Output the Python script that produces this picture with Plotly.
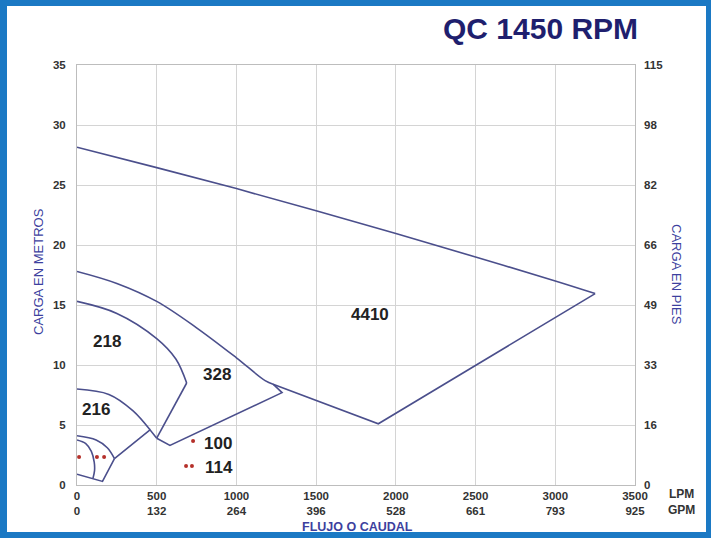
import plotly.graph_objects as go

# ---------------- data ----------------
lpm_ticks = [0, 500, 1000, 1500, 2000, 2500, 3000, 3500]
gpm_labels = ["0", "132", "264", "396", "528", "661", "793", "925"]
m_ticks = [0, 5, 10, 15, 20, 25, 30, 35]
ft_labels = ["0", "16", "33", "49", "66", "82", "98", "115"]

# model 4410
top4410_x = [0, 500, 1000, 1500, 2000, 2500, 3000, 3250]
top4410_y = [28.15, 26.45, 24.7, 22.85, 20.95, 19.0, 17.0, 15.95]
right4410_x = [3250, 1890, 1230]
right4410_y = [15.95, 5.1, 8.4]
# shared boundary 4410 / 328
mid4410_x = [0, 250, 500, 750, 1000, 1180, 1230]
mid4410_y = [17.8, 16.8, 15.3, 13.1, 10.6, 8.7, 8.4]
# model 328
tail328_x = [1230, 1286, 583, 500]
tail328_y = [8.4, 7.7, 3.3, 3.9]
# model 218
top218_x = [0, 250, 500, 620, 688]
top218_y = [15.3, 14.3, 12.2, 10.5, 8.5]
side218_x = [688, 500]
side218_y = [8.5, 3.9]
# model 216
top216_x = [0, 200, 350, 458]
top216_y = [8.0, 7.55, 6.2, 4.6]
low216_x = [500, 458, 235]
low216_y = [3.9, 4.6, 2.2]
# model 114
top114_x = [0, 120, 190, 235]
top114_y = [4.1, 3.75, 3.1, 2.2]
low114_x = [235, 160, 0]
low114_y = [2.2, 0.3, 0.9]
# model 100
c100_x = [0, 55, 90, 108, 110, 100]
c100_y = [3.75, 3.45, 2.8, 1.9, 1.2, 0.55]

curved = [
    (top4410_x, top4410_y), (mid4410_x, mid4410_y), (top218_x, top218_y),
    (top216_x, top216_y), (top114_x, top114_y), (c100_x, c100_y),
]
straight = [
    (right4410_x, right4410_y), (tail328_x, tail328_y), (side218_x, side218_y),
    (low216_x, low216_y), (low114_x, low114_y),
]

region_labels = ["4410", "328", "218", "216", "100", "114"]
label_x = [1838, 878, 188, 120, 885, 890]
label_y = [14.25, 9.25, 12.0, 6.33, 3.42, 1.42]

marker_x = [13, 125, 170, 728, 684, 721]
marker_y = [2.33, 2.33, 2.33, 3.67, 1.58, 1.58]

# ---------------- figure ----------------
LINE = "#4b4f8c"
AXT = "#3d3f9e"
TICK = "#333333"

fig = go.Figure()
for cx, cy in curved:
    fig.add_trace(go.Scatter(x=cx, y=cy, mode="lines",
                             line=dict(color=LINE, width=1.6, shape="spline", smoothing=1),
                             hoverinfo="skip", showlegend=False))
for cx, cy in straight:
    fig.add_trace(go.Scatter(x=cx, y=cy, mode="lines",
                             line=dict(color=LINE, width=1.6),
                             hoverinfo="skip", showlegend=False))

fig.add_trace(go.Scatter(x=marker_x, y=marker_y, mode="markers",
                         marker=dict(color="#b5302a", size=4),
                         hoverinfo="skip", showlegend=False))

# invisible trace for right axis
fig.add_trace(go.Scatter(x=[0], y=[0], yaxis="y2", mode="markers",
                         marker=dict(opacity=0), hoverinfo="skip", showlegend=False))

for t, lx, ly in zip(region_labels, label_x, label_y):
    fig.add_annotation(x=lx, y=ly, text=t, showarrow=False,
                       font=dict(family="Arial", size=17, color="#222222", weight="bold"))

W, H = 711, 538
ml, mr, mt, mb = 77, 76, 65, 53
pw, ph = W - ml - mr, H - mt - mb


def px2paper(px, py):
    return (px - ml) / pw, (H - mb - py) / ph


# white inner panel over blue frame
x0, y0 = px2paper(7, 532)
x1, y1 = px2paper(706, 6)
fig.add_shape(type="rect", xref="paper", yref="paper", x0=x0, y0=y0, x1=x1, y1=y1,
              fillcolor="white", line=dict(width=0), layer="below")

# title
tx, ty = px2paper(540, 28)
fig.add_annotation(xref="paper", yref="paper", x=tx, y=ty, text="QC 1450 RPM",
                   showarrow=False, xanchor="center", yanchor="middle",
                   font=dict(family="Arial", size=30, color="#1f1f6e", weight="bold"))

# axis titles
ax, ay = px2paper(38, 272)
fig.add_annotation(xref="paper", yref="paper", x=ax, y=ay, text="CARGA EN METROS",
                   textangle=-90, showarrow=False, xanchor="center", yanchor="middle",
                   font=dict(family="Arial", size=13, color=AXT))
ax, ay = px2paper(677, 274)
fig.add_annotation(xref="paper", yref="paper", x=ax, y=ay, text="CARGA EN PIES",
                   textangle=90, showarrow=False, xanchor="center", yanchor="middle",
                   font=dict(family="Arial", size=13, color=AXT))
ax, ay = px2paper(357, 527)
fig.add_annotation(xref="paper", yref="paper", x=ax, y=ay, text="FLUJO O CAUDAL",
                   showarrow=False, xanchor="center", yanchor="middle",
                   font=dict(family="Arial", size=12.5, color=AXT, weight="bold"))
for txt, py in (("LPM", 494), ("GPM", 510)):
    ax, ay = px2paper(681, py)
    fig.add_annotation(xref="paper", yref="paper", x=ax, y=ay, text=txt,
                       showarrow=False, xanchor="center", yanchor="middle",
                       font=dict(family="Arial", size=12, color=TICK, weight="bold"))

tickfont = dict(family="Arial", size=11.5, color=TICK, weight="bold")
fig.update_layout(
    width=W, height=H,
    margin=dict(l=ml, r=mr, t=mt, b=mb),
    paper_bgcolor="#1b79c4",
    plot_bgcolor="white",
    xaxis=dict(range=[0, 3500], tickvals=lpm_ticks,
               ticktext=[f"{a}<br>{b}" for a, b in zip(lpm_ticks, gpm_labels)],
               showgrid=True, gridcolor="#d4d4d4", gridwidth=1,
               showline=True, linecolor="#bdbdbd", mirror=True,
               zeroline=False, ticks="", tickfont=tickfont,
               ticklabelstandoff=0, fixedrange=True),
    yaxis=dict(range=[0, 35], tickvals=m_ticks,
               showgrid=True, gridcolor="#d4d4d4", gridwidth=1,
               showline=True, linecolor="#bdbdbd", mirror=True,
               zeroline=False, ticks="", tickfont=tickfont,
               ticklabelstandoff=8, fixedrange=True),
    yaxis2=dict(range=[0, 35], overlaying="y", side="right",
                tickvals=m_ticks, ticktext=ft_labels,
                showgrid=False, zeroline=False, showline=False, ticks="",
                tickfont=tickfont, ticklabelstandoff=8, fixedrange=True),
)

fig.write_html("out.html", config={"displayModeBar": False},
               post_script="document.body.style.margin='0';document.body.style.padding='0';")
